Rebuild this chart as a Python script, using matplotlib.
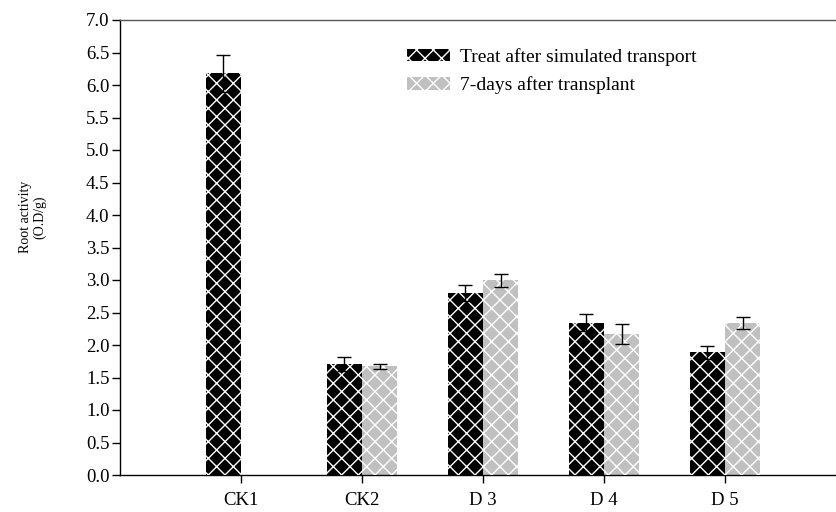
import matplotlib
matplotlib.use("Agg")
import matplotlib.pyplot as plt
import numpy as np
from matplotlib.patches import Patch
from matplotlib.legend_handler import HandlerTuple

categories = ["CK1", "CK2", "D 3", "D 4", "D 5"]
series_names = ["Treat after simulated transport", "7-days after transplant"]
treat_vals = [6.18, 1.71, 2.80, 2.34, 1.89]
treat_err = [0.28, 0.11, 0.12, 0.13, 0.10]
transplant_vals = [np.nan, 1.67, 3.00, 2.17, 2.34]
transplant_err = [np.nan, 0.04, 0.10, 0.16, 0.09]
yticks = np.arange(0, 7.01, 0.5)

plt.rcParams["font.family"] = ["Liberation Serif", "DejaVu Serif"]
plt.rcParams["hatch.linewidth"] = 1.0

fig = plt.figure(figsize=(8.36, 5.12), dpi=100)
ax = fig.add_axes([120 / 836, 37 / 512, (836 - 120) / 836, 455 / 512])

x = np.arange(1, len(categories) + 1)
w = 0.29
colors = ["black", "#c0c0c0"]

handles = []
for vals, errs, col, off in [(treat_vals, treat_err, colors[0], -w / 2),
                             (transplant_vals, transplant_err, colors[1], w / 2)]:
    vals = np.array(vals, dtype=float)
    errs = np.array(errs, dtype=float)
    ax.bar(x + off, vals, w, color=col, linewidth=0, zorder=2)
    ax.bar(x + off, vals, w, facecolor="none", edgecolor="white",
           hatch="xx", linewidth=0, zorder=3)
    ax.errorbar(x + off, vals, yerr=errs, fmt="none", ecolor="black",
                elinewidth=1.0, capsize=5, capthick=1.0, zorder=4)
    handles.append((Patch(facecolor=col, linewidth=0),
                    Patch(facecolor="none", edgecolor="white", hatch="xx", linewidth=0)))

ax.set_xlim(0, (836 - 120) / 121)
ax.set_ylim(0, 7)
ax.set_xticks(x)
ax.set_xticklabels(categories, fontsize=13.5)
ax.set_yticks(yticks)
ax.set_yticklabels([f"{v:.1f}" for v in yticks], fontsize=13.5)
ax.tick_params(axis="y", direction="out", length=6, width=1, pad=1.5)
ax.tick_params(axis="x", direction="out", length=6, width=1, pad=6)
ax.spines["right"].set_visible(False)
ax.spines["top"].set_color("#555555")
for s in ["left", "bottom", "top"]:
    ax.spines[s].set_linewidth(1.0)

ax.set_ylabel("Root activity\n(O.D/g)", fontsize=10, linespacing=1.1)
ax.yaxis.set_label_coords(-0.103, 0.567)

leg = ax.legend(handles, series_names, handler_map={tuple: HandlerTuple(ndivide=1)},
                loc="upper left", bbox_to_anchor=(0.387, 0.96), frameon=False,
                fontsize=14, handlelength=2.2, handleheight=0.6, labelspacing=0.55,
                handletextpad=0.55, borderpad=0)

fig.savefig("out.png", dpi=100)
